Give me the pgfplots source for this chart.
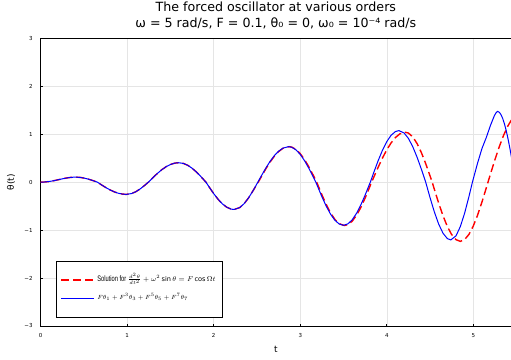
\documentclass[border=0pt]{standalone}
\usepackage{fontspec}
\setmainfont{DejaVu Sans}
\newfontfamily\libsans{Liberation Sans}
\usepackage{graphicx}
\usepackage{pgfplots}
\pgfplotsset{compat=1.18}
\begin{document}
\begin{tikzpicture}
\begin{axis}[
 scale only axis, width=470.3bp, height=287.7bp,
 xmin=0, xmax=5.436, ymin=-3, ymax=3,
 xtick={0,1,2,3,4,5}, ytick={-3,-2,-1,0,1,2,3},
 xticklabels={0,1,2,3,4,5},
 yticklabels={−3,−2,−1,0,1,2,3},
 tick label style={font=\fontsize{5.5}{6}\selectfont},
 yticklabel style={inner sep=0pt, xshift=-8bp},
 xticklabel style={inner sep=0pt, yshift=-7bp},
 grid=major, major grid style={line width=0.5bp, draw=black!10},
 axis line style={line width=0.9bp, black},
 tick style={line width=0.6bp, black},
 major tick length=2.5bp, tick align=inside, tick pos=left,
 xlabel={t}, ylabel={θ(t)},
 label style={font=\fontsize{9}{10}\selectfont},
 xlabel style={at={(rel axis cs:0.5,0)}, anchor=center, yshift=-23bp},
 ylabel style={at={(rel axis cs:0,0.5)}, anchor=center, yshift=29.7bp},
 title={The forced oscillator at various orders\\ω = 5 rad/s, F = 0.1, θ₀ = 0, ω₀ = 10⁻⁴ rad/s},
 title style={align=center, font=\fontsize{12.7}{16}\selectfont, at={(rel axis cs:0.5,1)}, anchor=south, yshift=3.3bp, inner sep=0pt},
 legend style={at={(rel axis cs:0.0325,0.030)}, anchor=south west, draw=black, line width=0.8bp,
   inner xsep=4bp, inner ysep=12.5bp, row sep=6.3bp, font=\fontsize{6.6}{8}\selectfont,
   nodes={inner xsep=2.5bp, inner ysep=0bp, text height=7bp, text depth=5bp}},
 legend cell align=left,
 legend image code/.code={\draw[#1] (0bp,0bp) -- (33bp,0bp);},
]
\addplot[red, line width=1.4bp, dash pattern=on 8bp off 4bp] coordinates {
(0,0) (0.05,0.0036) (0.10,0.0140) (0.15,0.0298) (0.20,0.0491) (0.25,0.0690) (0.30,0.0869) (0.35,0.0998) (0.40,0.105) (0.45,0.100) (0.50,0.0857) (0.55,0.0632) (0.60,0.0349) (0.655,0) (0.70,-0.0534) (0.75,-0.110) (0.80,-0.160) (0.85,-0.202) (0.90,-0.233) (0.95,-0.250) (0.99,-0.255) (1.05,-0.238) (1.10,-0.199) (1.15,-0.141) (1.20,-0.0696) (1.245,0) (1.30,0.099) (1.35,0.184) (1.40,0.260) (1.45,0.322) (1.50,0.369) (1.55,0.397) (1.595,0.405) (1.65,0.390) (1.70,0.351) (1.75,0.290) (1.80,0.211) (1.85,0.119) (1.91,0) (1.95,-0.109) (2.00,-0.240) (2.05,-0.357) (2.10,-0.453) (2.15,-0.522) (2.20,-0.562) (2.235,-0.570) (2.30,-0.531) (2.35,-0.451) (2.40,-0.335) (2.45,-0.192)
(2.515,0) (2.55,0.114) (2.60,0.272) (2.65,0.416) (2.70,0.540) (2.75,0.638) (2.80,0.705) (2.87,0.740) (2.90,0.732) (2.95,0.684) (3.00,0.594) (3.05,0.469) (3.10,0.317) (3.15,0.144) (3.19,0) (3.25,-0.263) (3.30,-0.465) (3.35,-0.640) (3.40,-0.776) (3.45,-0.866) (3.51,-0.905) (3.55,-0.887) (3.60,-0.815) (3.65,-0.693) (3.70,-0.529) (3.75,-0.331) (3.80,-0.112) (3.825,0) (3.85,0.1045) (3.90,0.309) (3.95,0.502) (4.00,0.674) (4.05,0.819) (4.10,0.931) (4.15,1.005) (4.215,1.040) (4.25,1.024) (4.30,0.945) (4.35,0.806) (4.40,0.616) (4.45,0.386) (4.50,0.131) (4.525,0) (4.55,-0.149) (4.60,-0.438) (4.65,-0.701) (4.70,-0.925) (4.75,-1.093) (4.80,-1.199) (4.85,-1.235) (4.90,-1.198) (4.95,-1.089) (5.00,-0.915) (5.05,-0.687) (5.10,-0.416) (5.15,-0.121) (5.17,0) (5.20,0.178) (5.25,0.467) (5.30,0.737) (5.35,0.976) (5.40,1.173) (5.45,1.322)
};
\addlegendentry{{\libsans\fontsize{8}{9}\selectfont\scalebox{0.72}[1]{Solution for}}\hspace{1.5bp}$\frac{d^2\theta}{dt^2}+\omega^2\sin\theta = F\cos\Omega t$}
\addplot[blue, line width=1bp] coordinates {
(0,0) (0.05,0.0036) (0.10,0.0140) (0.15,0.0298) (0.20,0.0491) (0.25,0.0690) (0.30,0.0869) (0.35,0.0998) (0.40,0.105) (0.45,0.100) (0.50,0.0857) (0.55,0.0632) (0.60,0.0349) (0.655,0) (0.70,-0.0534) (0.75,-0.110) (0.80,-0.160) (0.85,-0.202) (0.90,-0.233) (0.95,-0.250) (0.99,-0.255) (1.05,-0.238) (1.10,-0.199) (1.15,-0.141) (1.20,-0.0696) (1.245,0) (1.30,0.099) (1.35,0.184) (1.40,0.260) (1.45,0.322) (1.50,0.369) (1.55,0.397) (1.595,0.405) (1.65,0.390) (1.70,0.351) (1.75,0.290) (1.80,0.211) (1.85,0.119) (1.91,0) (1.95,-0.109) (2.00,-0.240) (2.05,-0.357) (2.10,-0.453) (2.15,-0.522) (2.20,-0.562) (2.235,-0.570) (2.30,-0.531) (2.35,-0.451) (2.40,-0.335) (2.45,-0.192) (2.51,0) (2.55,0.130) (2.60,0.287) (2.65,0.430) (2.70,0.552) (2.75,0.646) (2.80,0.710) (2.865,0.740) (2.90,0.729) (2.95,0.674) (3.00,0.579) (3.05,0.447) (3.10,0.287) (3.15,0.110) (3.18,0) (3.25,-0.303) (3.30,-0.500) (3.35,-0.667) (3.40,-0.794) (3.45,-0.873) (3.50,-0.900) (3.55,-0.871) (3.60,-0.787) (3.65,-0.652) (3.70,-0.476) (3.75,-0.269) (3.81,0) (3.85,0.203) (3.90,0.446) (3.95,0.664) (4.00,0.845) (4.05,0.978) (4.10,1.055) (4.14,1.075) (4.20,1.026) (4.25,0.913) (4.30,0.741) (4.35,0.522) (4.40,0.270) (4.45,0) (4.50,-0.322) (4.55,-0.621) (4.60,-0.875) (4.65,-1.065) (4.70,-1.177) (4.74,-1.205) (4.80,-1.121) (4.85,-0.928) (4.90,-0.646) (4.95,-0.300) (4.99,0) (5.05,0.40) (5.10,0.70) (5.15,0.93) (5.20,1.19) (5.24,1.37) (5.26,1.44) (5.28,1.475) (5.30,1.459) (5.32,1.409) (5.34,1.328) (5.36,1.217) (5.38,1.080) (5.40,0.917) (5.42,0.734) (5.44,0.534) (5.46,0.32)
};
\addlegendentry{\fontsize{6.4}{8}\selectfont$F\theta_1 + F^3\theta_3 + F^5\theta_5 + F^7\theta_7$}
\coordinate (bl) at (rel axis cs:0,0);
\coordinate (tr) at (rel axis cs:1,1);
\end{axis}
\pgfresetboundingbox
\path ([xshift=-40.7bp,yshift=-34bp]bl) rectangle ([yshift=38.3bp]tr);
\end{tikzpicture}
\end{document}
